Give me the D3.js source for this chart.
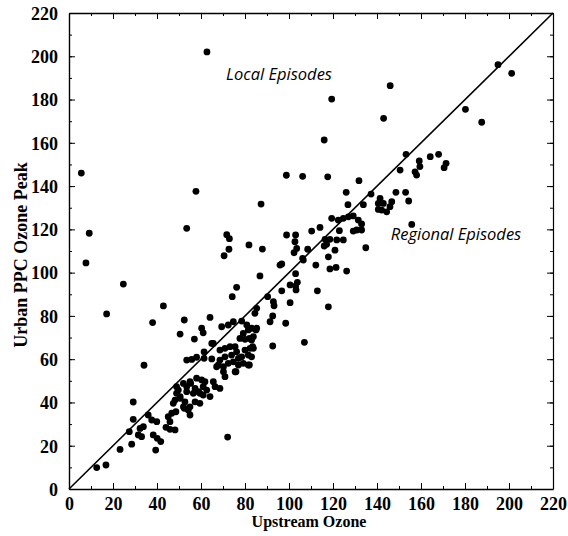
<!DOCTYPE html>
<html>
<head>
<meta charset="utf-8">
<script src="https://cdn.jsdelivr.net/npm/d3@7"></script>
<style>
  body { margin: 0; background: #fff; }
  text { fill: #000; }
  .tick text { font-family: "Liberation Serif", serif; font-weight: bold; font-size: 18px; }
</style>
</head>
<body>
<svg id="chart" width="568" height="536"></svg>
<script>
// Upstream ozone (x) vs urban PPC ozone peak (y)
const upstream = [
  62.7, 5.6, 9.2, 7.7, 57.7, 53.5, 71.7, 72.9, 72.7, 70.5, 81.8, 87.9, 87.3, 98.8, 106.2, 117.6, 119.4, 116, 146, 143, 195, 201.2, 180.2, 187.6,
  153.2, 164.2, 168, 171.4, 170.5, 159.2, 159.5, 157.3, 158, 150.5, 131.8, 126, 137.3, 126.8, 133.8, 148.6, 153, 154.4, 140.6, 140.6, 141.4, 142.9, 142.1, 144.4, 145.9, 146.7, 155.8,
  119.4, 122.4, 124.7, 127, 129.2, 131.5, 133, 130.8, 133, 129.2, 114.1, 110.3, 122.9, 98.9, 103, 116.4, 118.6, 121.7, 124.7, 117.1, 134.9, 120.9, 117.9, 116, 108.5, 103.5, 102.3, 106.2, 102.7, 95.9, 112.2, 118.6, 121.4, 126.2, 96.7, 106.5,
  103, 100.5, 103, 103.8, 103.2, 96.7, 112.9, 100.5, 117.9, 98.5, 107, 86.8, 90.3, 92.9, 93.2, 92.6, 91.4, 92.6, 85.3, 84.5, 76.2, 74.2,
  24.7, 17.1, 42.9, 38, 52.4, 50.5, 60.3, 61, 64.1, 57, 34.1,
  69.4, 72.4, 74.7, 78.5, 80.8, 83, 85, 83.8, 82, 79.2, 77.7, 80, 85.3, 81.5, 83, 83.8, 83, 81.5, 75.9, 64.9, 61.4, 58, 55.8, 53.5, 61.4, 64.9, 67.1, 65.6,
  68.6, 70.9, 73.2, 75.5, 76.2, 73.9, 70.9, 68.6, 67.9, 70.2, 72.4, 74.7, 77, 78.5, 80, 82.3, 83.5, 81.5, 79.2, 82, 77, 70.2, 70.9, 75.5, 65.6, 66.4, 68.6, 64.1,
  48.9, 52, 55, 58, 60.3, 61, 59.5, 56.5, 53.5, 50.5, 48.2, 52.7, 57.3, 59.5, 55, 52, 53.5, 55.3, 57.3, 58.8, 61.8, 62.6, 61, 47.4, 48.9, 49.7, 50.5, 54.2, 55, 52.4,
  36, 37.6, 33.8, 32.3, 31.5, 33, 39.9, 38.3, 40.1, 41.7, 44.1, 45.9, 48.2, 45.1, 46.7, 48.6, 45.9, 29.2, 29.2, 27.4, 28.5, 23.2, 12.6, 16.8, 39.4, 72.1
];
const urbanPeak = [
  202, 146, 118.2, 104.5, 137.6, 120.5, 117.5, 115.7, 110.8, 107.8, 112.8, 110.9, 131.7, 145, 144.5, 144.3, 180.2, 161.3, 186.4, 171.3, 196.1, 192.1, 175.5, 169.5,
  154.7, 153.6, 154.7, 150.5, 148.5, 151.6, 149, 146.6, 145.1, 147.4, 142.5, 137.1, 136.3, 131.4, 131.4, 137.1, 137.1, 133.1, 132, 129.2, 134.3, 132, 128.9, 128.1, 130.5, 132.8, 122.3,
  125.1, 124.3, 125.1, 125.8, 126.2, 124.3, 122.5, 119.7, 119.7, 119.2, 120.9, 119.2, 119.4, 117.4, 117.4, 115.4, 115.4, 115.1, 115.1, 113.1, 111.5, 110.4, 107.3, 112.3, 110.8, 111.2, 109.2, 106.6, 114.3, 103.5, 103.5, 101.7, 102.4, 100.7, 104, 105.8,
  99.5, 94.3, 93.8, 95.5, 92, 91.6, 91.6, 86.1, 84.2, 76.6, 67.8, 98.5, 88.9, 86.6, 84.7, 80, 77.3, 66.1, 83.5, 81.2, 93.2, 88.9,
  94.7, 80.9, 84.6, 76.9, 78.1, 71.6, 74.3, 72.2, 79.3, 69.3, 57.2,
  75, 75.8, 77.3, 77.6, 75.8, 74.3, 73.5, 70.4, 69.6, 71.9, 69.6, 69.2, 74.3, 73.5, 68.9, 65, 61.1, 57.3, 54.2, 67.3, 63.4, 60.9, 59.9, 59.6, 60.4, 60.1, 56.5, 67.3,
  64.2, 65, 65.8, 65.8, 63.4, 61.9, 61.1, 59.6, 57.3, 56.5, 58.1, 58.8, 60.4, 61.1, 64.2, 65, 65.8, 61.9, 58.1, 57.3, 57.3, 54.2, 51.9, 54.2, 49.6, 47.3, 46.5, 42.7,
  47.3, 48.8, 49.6, 51.2, 50.4, 47.3, 44.2, 44.2, 45, 42.7, 41.1, 40.3, 40.3, 39.6, 38, 38, 47.3, 48.8, 46.5, 45, 49.6, 45.7, 43.4, 39.6, 44.2, 45.7, 41.9, 36.5, 34.2, 37.3,
  34.2, 31.9, 28.8, 28, 25, 24.2, 31.1, 25, 23.4, 21.9, 28.5, 27.6, 27.3, 33.4, 35, 35.7, 31.1, 40.2, 32.2, 26.5, 20.7, 18.3, 9.9, 11.1, 18, 24
];
const tickValues = [0, 20, 40, 60, 80, 100, 120, 140, 160, 180, 200, 220];
const minorTicks = d3.range(0, 221, 10);

const svg = d3.select('#chart');
const margin = { left: 69, right: 15, top: 13, bottom: 47 };
const width = +svg.attr('width');
const height = +svg.attr('height');

const x = d3.scaleLinear().domain([0, 220]).range([margin.left, width - margin.right]);
const y = d3.scaleLinear().domain([0, 220]).range([height - margin.bottom, margin.top]);

// Minor ticks on all four sides, pointing inward
const axes = [
  { axis: d3.axisBottom(x), tr: `translate(0,${y(0)})` },
  { axis: d3.axisTop(x), tr: `translate(0,${y(220)})` },
  { axis: d3.axisLeft(y), tr: `translate(${x(0)},0)` },
  { axis: d3.axisRight(y), tr: `translate(${x(220)},0)` }
];
axes.forEach(a => {
  svg.append('g')
    .attr('transform', a.tr)
    .call(a.axis.tickValues(minorTicks).tickSize(-3).tickFormat(''))
    .call(g => g.select('.domain').remove());
});

// Major ticks and labels
svg.append('g')
  .attr('transform', `translate(0,${y(0)})`)
  .call(d3.axisBottom(x).tickValues(tickValues).tickSizeInner(-6).tickSizeOuter(0).tickPadding(8))
  .call(g => g.select('.domain').attr('stroke-width', 1.6));

svg.append('g')
  .attr('transform', `translate(${x(0)},0)`)
  .call(d3.axisLeft(y).tickValues(tickValues).tickSizeInner(-6).tickSizeOuter(0).tickPadding(11))
  .call(g => g.select('.domain').attr('stroke-width', 1.4))
  .call(g => g.selectAll('.tick text').attr('dy', '0.35em'));

svg.append('g')
  .attr('transform', `translate(0,${y(220)})`)
  .call(d3.axisTop(x).tickValues(tickValues).tickSizeInner(-6).tickSizeOuter(0).tickFormat(''))
  .call(g => g.select('.domain').attr('stroke-width', 1.4));

svg.append('g')
  .attr('transform', `translate(${x(220)},0)`)
  .call(d3.axisRight(y).tickValues(tickValues).tickSizeInner(-6).tickSizeOuter(0).tickFormat(''))
  .call(g => g.select('.domain').attr('stroke-width', 1.2));

// 1:1 line
svg.append('line')
  .attr('x1', x(0)).attr('y1', y(0))
  .attr('x2', x(220)).attr('y2', y(220))
  .attr('stroke', '#000')
  .attr('stroke-width', 1.6);

// Points
svg.append('g')
  .selectAll('circle')
  .data(upstream.map((v, i) => [v, urbanPeak[i]]))
  .join('circle')
  .attr('cx', d => x(d[0]))
  .attr('cy', d => y(d[1]))
  .attr('r', 3.4)
  .attr('fill', '#000');

// Annotations
svg.append('text')
  .attr('x', 279).attr('y', 80)
  .attr('text-anchor', 'middle')
  .style('font-family', '"Open Sans", sans-serif')
  .style('font-style', 'italic')
  .style('font-size', '16.5px')
  .text('Local Episodes');

svg.append('text')
  .attr('x', 456).attr('y', 240)
  .attr('text-anchor', 'middle')
  .style('font-family', '"Open Sans", sans-serif')
  .style('font-style', 'italic')
  .style('font-size', '16.5px')
  .text('Regional Episodes');

// Axis titles
svg.append('text')
  .attr('x', 309).attr('y', 527)
  .attr('text-anchor', 'middle')
  .attr('fill', '#000')
  .style('font-family', '"Liberation Serif", serif')
  .style('font-weight', 'bold')
  .style('font-size', '16px')
  .text('Upstream Ozone');

svg.append('text')
  .attr('transform', 'translate(27,255) rotate(-90)')
  .attr('text-anchor', 'middle')
  .attr('fill', '#000')
  .style('font-family', '"Liberation Serif", serif')
  .style('font-weight', 'bold')
  .style('font-size', '18px')
  .text('Urban PPC Ozone Peak');
</script>
</body>
</html>
